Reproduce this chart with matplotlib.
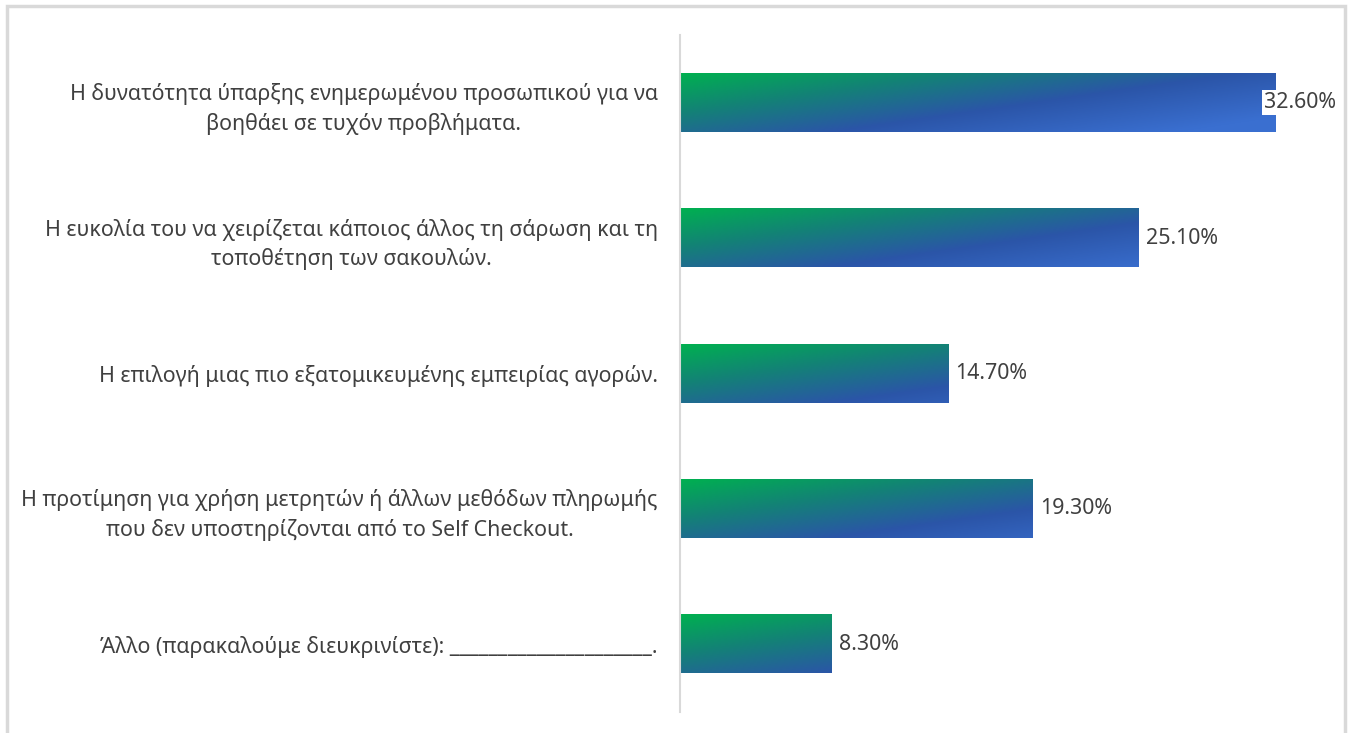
import matplotlib
matplotlib.use("Agg")
import matplotlib.pyplot as plt
import numpy as np
from matplotlib.colors import LinearSegmentedColormap
from matplotlib.patches import Rectangle

# Survey answers (top to bottom) and their shares in percent
categories = [
    "Η δυνατότητα ύπαρξης ενημερωμένου προσωπικού για να\nβοηθάει σε τυχόν προβλήματα.",
    "Η ευκολία του να χειρίζεται κάποιος άλλος τη σάρωση και τη\nτοποθέτηση των σακουλών.",
    "Η επιλογή μιας πιο εξατομικευμένης εμπειρίας αγορών.",
    "Η προτίμηση για χρήση μετρητών ή άλλων μεθόδων πληρωμής\nπου δεν υποστηρίζονται από το Self Checkout.",
    "Άλλο (παρακαλούμε διευκρινίστε): _____________________.",
]
values = [32.6, 25.1, 14.7, 19.3, 8.3]
value_labels = ["32.60%", "25.10%", "14.70%", "19.30%", "8.30%"]

TEXT = "#404040"
FONT = ["Noto Sans", "DejaVu Sans"]
plt.rcParams["font.family"] = FONT

grad = LinearSegmentedColormap.from_list(
    "bar_grad",
    [(0.0, "#00b050"), (0.3, "#138276"), (0.62, "#2b55a8"), (1.0, "#3a6fd0")],
)

fig = plt.figure(figsize=(13.48, 7.33), dpi=100)
fig.patches.append(Rectangle((7 / 1348, -0.01), 1338 / 1348, 1 - 6 / 733 + 0.01,
                             transform=fig.transFigure, fill=False,
                             edgecolor="#d9d9d9", linewidth=2.5))

ax = fig.add_axes([680 / 1348, 21 / 733, 658 / 1348, 677 / 733])
n = len(values)
y = np.arange(n)
bar_h = 0.43
ax.set_xlim(0, 36)
ax.set_ylim(n - 0.5, -0.5)

# shallow diagonal gradient measured in screen pixels, so every bar shares
# the same colour ramp: green at the top-left, blue towards the bottom-right
px_per_x = ax.get_window_extent().width / 36
bar_px_h = ax.get_window_extent().height / n * bar_h
v = np.linspace(0, bar_px_h, 60)[:, None]
for yi, val in zip(y, values):
    ax.barh(yi, val, height=bar_h, color="none", edgecolor="none")
    u = np.linspace(0, val * px_per_x, 300)[None, :]
    t = np.clip(u / 900 + v / 130, 0, 1)
    ax.imshow(t, cmap=grad, vmin=0, vmax=1, aspect="auto",
              extent=(0, val, yi + bar_h / 2, yi - bar_h / 2),
              interpolation="bilinear", zorder=2)

ax.set_yticks(y)
ax.set_yticklabels(categories, fontsize=15.4, color=TEXT,
                   multialignment="center", linespacing=1.45)
ax.tick_params(axis="y", length=0, pad=16)
ax.set_xticks([])
for side in ["top", "right", "bottom"]:
    ax.spines[side].set_visible(False)
ax.spines["left"].set_color("#d9d9d9")
ax.spines["left"].set_linewidth(1.5)
ax.spines["left"].set_zorder(5)

# value labels; the longest one sits inside the bar end on a white box
for yi, val, lab in zip(y, values, value_labels):
    if val >= 32:
        ax.text(35.9, yi, lab, ha="right", va="center", fontsize=15.4,
                color=TEXT, zorder=6,
                bbox=dict(facecolor="white", edgecolor="none", pad=1.5))
    else:
        ax.annotate(lab, (val, yi), xytext=(5, 0), textcoords="offset points",
                    ha="left", va="center", fontsize=15.4, color=TEXT)

fig.savefig("out.png", dpi=100, facecolor="white")
